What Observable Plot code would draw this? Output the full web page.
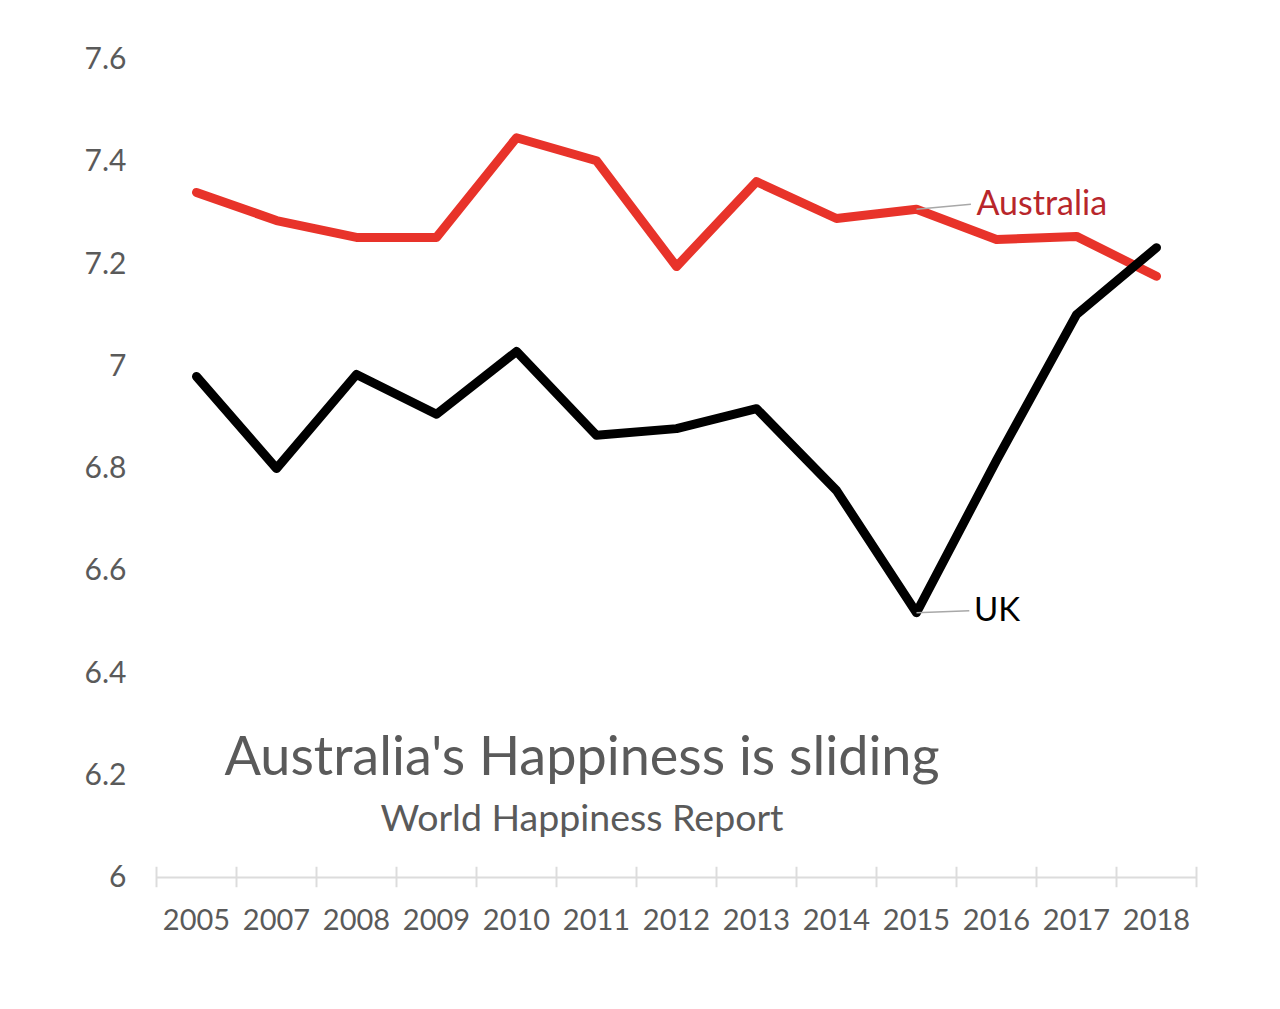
<!DOCTYPE html>
<html>
<head>
<meta charset="utf-8">
<script src="https://cdn.jsdelivr.net/npm/d3@7"></script>
<script src="https://cdn.jsdelivr.net/npm/@observablehq/plot@0.6"></script>
<style>
  body { margin: 0; background: #fff; }
  #wrap { position: relative; width: 1280px; height: 1009px; font-family: Lato, "Open Sans", sans-serif; }
  .ttl { position: absolute; left: 0; width: 1164px; text-align: center; color: #5a5a5a; white-space: nowrap; }
  #title { top: 722px; font-size: 54px; }
  #subtitle { top: 794px; font-size: 37.5px; }
</style>
</head>
<body>
<div id="wrap">
  <div id="chart"></div>
  <div id="title" class="ttl">Australia's Happiness is sliding</div>
  <div id="subtitle" class="ttl">World Happiness Report</div>
</div>
<script>
const years = ["2005","2007","2008","2009","2010","2011","2012","2013","2014","2015","2016","2017","2018"];
const australia = [7.34, 7.285, 7.252, 7.252, 7.447, 7.402, 7.195, 7.361, 7.289, 7.307, 7.248, 7.254, 7.176];
const uk = [6.98, 6.80, 6.984, 6.906, 7.029, 6.865, 6.878, 6.917, 6.757, 6.518, 6.816, 7.101, 7.232];
const yTicks = [6, 6.2, 6.4, 6.6, 6.8, 7, 7.2, 7.4, 7.6];
const labelYear = "2015";

const idx = years.map((_, i) => i);
const bounds = d3.range(years.length + 1).map(i => i - 0.5);
const li = years.indexOf(labelYear);
const aus = idx.map(i => ({i, v: australia[i]}));
const ukd = idx.map(i => ({i, v: uk[i]}));

const chart = Plot.plot({
  width: 1280,
  height: 1009,
  marginTop: 59,
  marginBottom: 132,
  marginLeft: 156,
  marginRight: 84,
  style: { fontFamily: "Lato, 'Open Sans', sans-serif", background: "#fff" },
  x: { type: "linear", domain: [-0.5, years.length - 0.5] },
  y: { domain: [6, 7.6] },
  marks: [
    Plot.ruleY([6], { stroke: "#dcdcdc", strokeWidth: 2 }),
    Plot.ruleX(bounds, { x: d => d, y1: 5.98, y2: 6.02, stroke: "#dcdcdc", strokeWidth: 2 }),
    Plot.axisY({ ticks: yTicks, tickFormat: d => String(+d.toFixed(1)), tickSize: 0, tickPadding: 30, fontSize: 30, color: "#5a5a5a", label: null }),
    Plot.axisX({ ticks: idx, tickFormat: i => years[i], tickSize: 0, tickPadding: 32, fontSize: 29, color: "#5a5a5a", label: null }),
    Plot.line(aus, { x: "i", y: "v", stroke: "#e8332a", strokeWidth: 9, strokeLinejoin: "round", strokeLinecap: "round" }),
    Plot.line(ukd, { x: "i", y: "v", stroke: "#000", strokeWidth: 9, strokeLinejoin: "round", strokeLinecap: "round" }),
    Plot.link([aus[li]], { x1: "i", y1: "v", x2: d => d.i + 0.68, y2: d => d.v + 0.01, stroke: "#a8a8a8", strokeWidth: 1.5 }),
    Plot.link([ukd[li]], { x1: "i", y1: "v", x2: d => d.i + 0.66, y2: d => d.v + 0.004, stroke: "#a8a8a8", strokeWidth: 1.5 }),
    Plot.text([aus[li]], { x: d => d.i + 0.75, y: d => d.v + 0.01, text: () => "Australia", textAnchor: "start", fontSize: 34, fill: "#b8262b" }),
    Plot.text([ukd[li]], { x: d => d.i + 0.72, y: d => d.v + 0.004, text: () => "UK", textAnchor: "start", fontSize: 33, fill: "#000" })
  ]
});
document.getElementById("chart").appendChild(chart);
</script>
</body>
</html>
